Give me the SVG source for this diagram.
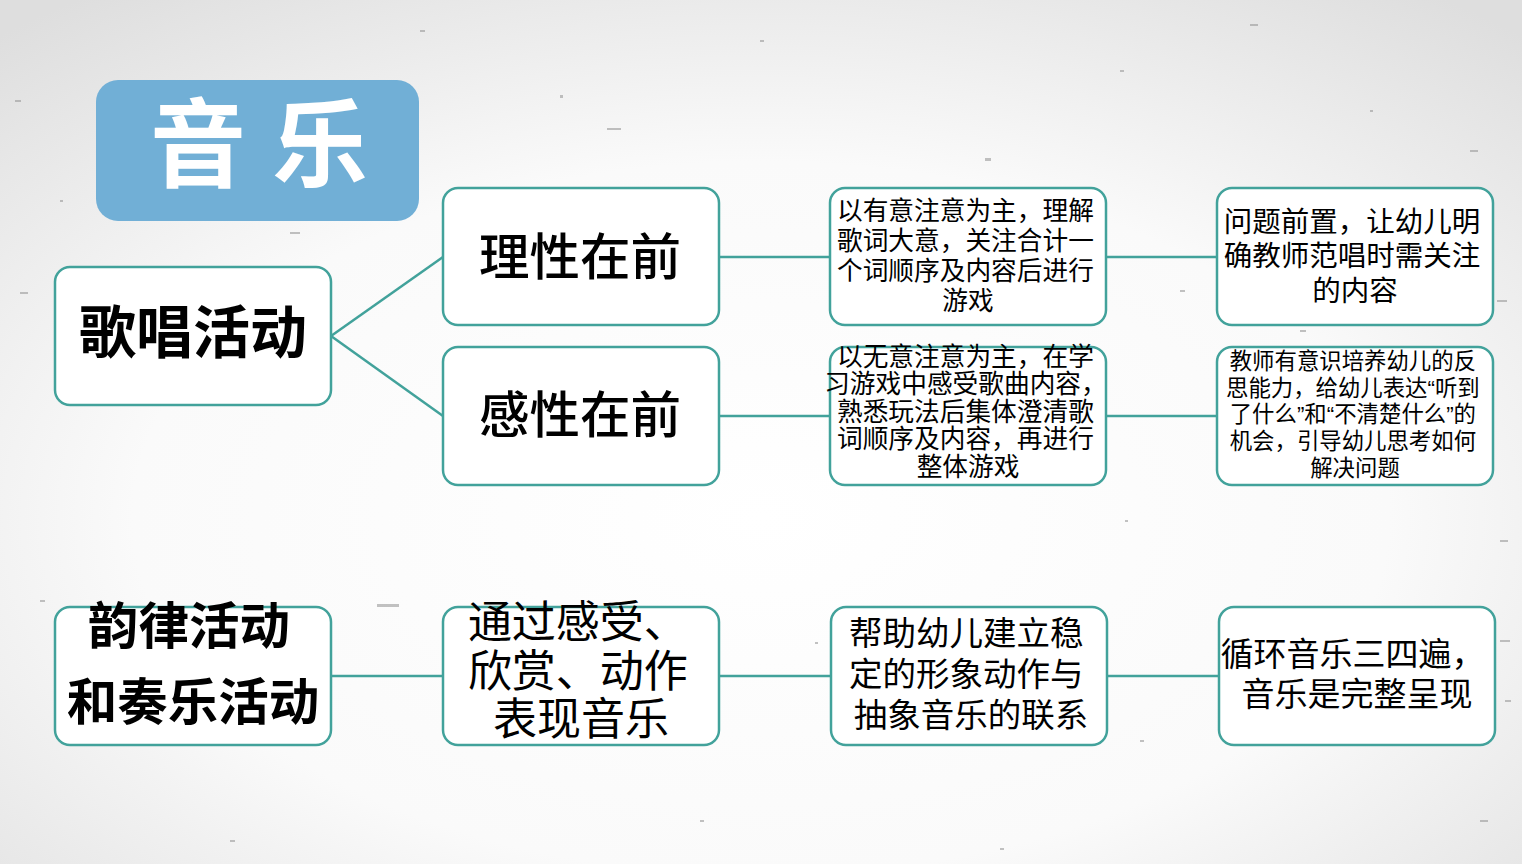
<svg xmlns="http://www.w3.org/2000/svg" width="1522" height="864" viewBox="0 0 1522 864">
<defs>
<radialGradient id="bg" cx="0.5" cy="0.6" r="0.75">
<stop offset="0" stop-color="#ffffff"/>
<stop offset="0.55" stop-color="#fafafa"/>
<stop offset="1" stop-color="#dedede"/>
</radialGradient>
<style>
.box{fill:#ffffff;stroke:#42a29b;stroke-width:2.5}
.t{font-family:"Liberation Sans","Noto Sans CJK SC",sans-serif;fill:#000;text-anchor:middle}
.b{font-weight:bold}
.conn{stroke:#42a29b;stroke-width:2.5;fill:none}
.sp{fill:#9a9a9a}
</style>
</defs>
<rect width="1522" height="864" fill="url(#bg)"/>
<g id="specks" opacity="0.6">
<rect class="sp" x="607" y="128" width="14" height="2"/>
<rect class="sp" x="377" y="604" width="22" height="3"/>
<rect class="sp" x="985" y="158" width="6" height="3"/>
<rect class="sp" x="20" y="292" width="8" height="2"/>
<rect class="sp" x="1497" y="300" width="10" height="2"/>
<rect class="sp" x="1250" y="24" width="8" height="2"/>
<rect class="sp" x="420" y="30" width="5" height="2"/>
<rect class="sp" x="760" y="40" width="4" height="2"/>
<rect class="sp" x="560" y="95" width="3" height="3"/>
<rect class="sp" x="1120" y="70" width="4" height="2"/>
<rect class="sp" x="1370" y="110" width="3" height="2"/>
<rect class="sp" x="1470" y="150" width="8" height="2"/>
<rect class="sp" x="290" y="232" width="10" height="2"/>
<rect class="sp" x="15" y="100" width="6" height="2"/>
<rect class="sp" x="60" y="200" width="3" height="2"/>
<rect class="sp" x="1180" y="290" width="5" height="2"/>
<rect class="sp" x="1300" y="330" width="6" height="2"/>
<rect class="sp" x="1500" y="540" width="8" height="2"/>
<rect class="sp" x="1480" y="820" width="8" height="2"/>
<rect class="sp" x="700" y="820" width="4" height="2"/>
<rect class="sp" x="1140" y="740" width="4" height="2"/>
<rect class="sp" x="40" y="600" width="5" height="2"/>
<rect class="sp" x="815" y="642" width="3" height="2"/>
<rect class="sp" x="1125" y="520" width="3" height="2"/>
<rect class="sp" x="1500" y="640" width="10" height="2"/>
<rect class="sp" x="1505" y="700" width="6" height="2"/>
<rect class="sp" x="230" y="840" width="5" height="2"/>
<rect class="sp" x="1000" y="848" width="4" height="2"/>
</g>
<g id="title">
<rect x="96" y="80" width="323" height="141" rx="22" fill="#71afd6"/>
<text class="t b" x="198" y="179" font-size="96" style="fill:#fff">音</text>
<text class="t b" x="320" y="179" font-size="96" style="fill:#fff">乐</text>
</g>
<g id="connectors">
<line class="conn" x1="331" y1="336" x2="443" y2="257"/>
<line class="conn" x1="331" y1="336" x2="443" y2="416"/>
<line class="conn" x1="719" y1="257" x2="830" y2="257"/>
<line class="conn" x1="1106" y1="257" x2="1217" y2="257"/>
<line class="conn" x1="719" y1="416" x2="830" y2="416"/>
<line class="conn" x1="1106" y1="416" x2="1217" y2="416"/>
<line class="conn" x1="331" y1="676" x2="443" y2="676"/>
<line class="conn" x1="719" y1="676" x2="831" y2="676"/>
<line class="conn" x1="1107" y1="676" x2="1219" y2="676"/>
</g>
<g id="n-singing">
<rect class="box" x="55" y="267" width="276" height="138" rx="15"/>
<text class="t b" x="193" y="353" font-size="57">歌唱活动</text>
</g>
<g id="n-rational">
<rect class="box" x="443" y="188" width="276" height="137" rx="15"/>
<text class="t" x="580" y="275" font-size="50.5" font-weight="500">理性在前</text>
</g>
<g id="n-perceptual">
<rect class="box" x="443" y="347" width="276" height="138" rx="15"/>
<text class="t" x="580" y="433" font-size="50.5" font-weight="500">感性在前</text>
</g>
<g id="n-r1">
<rect class="box" x="830" y="188" width="276" height="137" rx="15"/>
<text class="t" x="968" font-size="25.7">
<tspan x="969" y="219.5">以有意注意为主，理解</tspan>
<tspan x="969" y="249.5">歌词大意，关注合计一</tspan>
<tspan x="969" y="279.5">个词顺序及内容后进行</tspan>
<tspan x="968" y="309.5">游戏</tspan>
</text>
</g>
<g id="n-p1">
<rect class="box" x="830" y="347" width="276" height="138" rx="15"/>
<text class="t" x="968" font-size="25.7">
<tspan x="969" y="365.5">以无意注意为主，在学</tspan>
<tspan x="969" y="393">习游戏中感受歌曲内容，</tspan>
<tspan x="969" y="420.5">熟悉玩法后集体澄清歌</tspan>
<tspan x="969" y="448">词顺序及内容，再进行</tspan>
<tspan x="968" y="475.5">整体游戏</tspan>
</text>
</g>
<g id="n-r2">
<rect class="box" x="1217" y="188" width="276" height="137" rx="15"/>
<text class="t" x="1355" font-size="28.5">
<tspan x="1356" y="231.5">问题前置，让幼儿明</tspan>
<tspan x="1356" y="266">确教师范唱时需关注</tspan>
<tspan x="1355" y="300.5">的内容</tspan>
</text>
</g>
<g id="n-p2">
<rect class="box" x="1217" y="347" width="276" height="138" rx="15"/>
<text class="t" x="1355" font-size="22.4">
<tspan x="1356" y="369">教师有意识培养幼儿的反</tspan>
<tspan x="1356" y="395.5">思能力，给幼儿表达“听到</tspan>
<tspan x="1356" y="422">了什么”和“不清楚什么”的</tspan>
<tspan x="1356" y="449">机会，引导幼儿思考如何</tspan>
<tspan x="1355" y="476">解决问题</tspan>
</text>
</g>
<g id="n-rhythm">
<rect class="box" x="55" y="607" width="276" height="138" rx="15"/>
<text class="t b" x="193" font-size="50.5">
<tspan x="196" y="644">韵律活动</tspan>
<tspan x="193" y="720">和奏乐活动</tspan>
</text>
</g>
<g id="n-feel">
<rect class="box" x="443" y="607" width="276" height="138" rx="15"/>
<text class="t" x="581" font-size="44">
<tspan x="584" y="638">通过感受、</tspan>
<tspan x="584" y="687">欣赏、动作</tspan>
<tspan x="581" y="735">表现音乐</tspan>
</text>
</g>
<g id="n-help">
<rect class="box" x="831" y="607" width="276" height="138" rx="15"/>
<text class="t" x="971" font-size="33.5">
<tspan x="971" y="645">帮助幼儿建立稳</tspan>
<tspan x="971" y="686">定的形象动作与</tspan>
<tspan x="971" y="727">抽象音乐的联系</tspan>
</text>
</g>
<g id="n-loop">
<rect class="box" x="1219" y="607" width="276" height="138" rx="15"/>
<text class="t" x="1357" font-size="33">
<tspan x="1357" y="665.5">循环音乐三四遍，</tspan>
<tspan x="1357" y="705.5">音乐是完整呈现</tspan>
</text>
</g>
</svg>
